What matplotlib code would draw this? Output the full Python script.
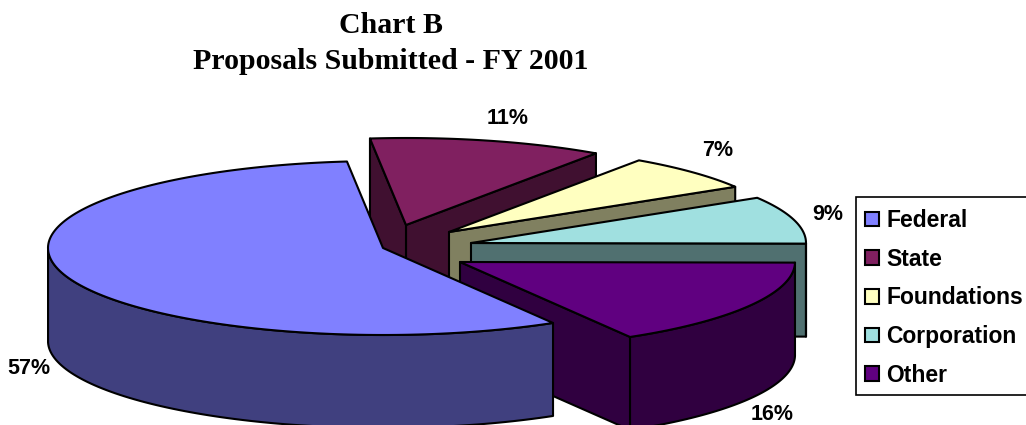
import numpy as np
import matplotlib
matplotlib.use("Agg")
import matplotlib.pyplot as plt
from matplotlib.patches import Polygon, Patch, Rectangle

categories = ["Federal", "State", "Foundations", "Corporation", "Other"]
shares = [56.7, 11.3, 6.7, 8.8, 16.4]
top_colors = ["#8080FF", "#802060", "#FFFFC0", "#A0E0E0", "#600080"]
side_colors = ["#40407F", "#401030", "#808060", "#507070", "#300040"]
title_lines = ["Chart B", "Proposals Submitted - FY 2001"]

# style / geometry of the drawing (pixels)
apex = [(383, 248), (406, 225), (449, 232), (471, 243), (460, 262)]
label_pos = [(29, 368), (508, 118), (718, 150), (828, 214), (772, 414)]
RX, RY, DEPTH = 335, 87, 93
START = 300.5
draw_order = [1, 2, 3, 4, 0]

W, H = 1026, 425
fig = plt.figure(figsize=(W / 100, H / 100), dpi=100)
ax = fig.add_axes([0, 0, 1, 1])
ax.set_xlim(0, W)
ax.set_ylim(H, 0)
ax.axis("off")

sweeps = 360 * np.array(shares) / sum(shares)
ends = START - np.cumsum(sweeps)
starts = ends + sweeps
LW = 1.5


def rim(cx, cy, t):
    r = np.radians(t)
    return np.column_stack([cx + RX * np.cos(r), cy - RY * np.sin(r)])


def poly(pts, color, z):
    ax.add_patch(Polygon(pts, closed=True, fc=color, ec="black", lw=LW,
                         joinstyle="round", zorder=z))


down = np.array([0, DEPTH])
for z, i in enumerate(draw_order):
    cx, cy = apex[i]
    a1, a0 = starts[i], ends[i]
    ts = np.linspace(a0, a1, 160)
    arc = rim(cx, cy, ts)
    c = np.array([[cx, cy]])
    # cut faces: only those turned to the viewer
    for edge, normal in ((arc[0], a0 - 90), (arc[-1], a1 + 90)):
        if np.sin(np.radians(normal)) < 0:
            poly(np.vstack([c, [edge], [edge + down], c + down]), side_colors[i], z * 10 + 1)
    # outer wall (only the part turned to the viewer)
    front = ts[np.sin(np.radians(ts)) <= 0.0]
    if len(front) > 1:
        f = rim(cx, cy, front)
        poly(np.vstack([f, (f + down)[::-1]]), side_colors[i], z * 10 + 2)
    # top face
    poly(np.vstack([c, arc]), top_colors[i], z * 10 + 3)

for (x, y), v in zip(label_pos, shares):
    ax.text(x, y, f"{v:.0f}%", ha="center", va="center", family="Liberation Sans",
            weight="bold", fontsize=15.5, color="black", zorder=100)

ax.text(391, 33, title_lines[0], ha="center", va="baseline", family="Liberation Serif",
        weight="bold", fontsize=21.5, zorder=100)
ax.text(391, 69, title_lines[1], ha="center", va="baseline", family="Liberation Serif",
        weight="bold", fontsize=21.5, zorder=100)

ax.add_patch(Rectangle((856, 197), 190, 198, fc="white", ec="black", lw=1.2, zorder=150))
handles = [Patch(fc=tc, ec="black", lw=LW) for tc in top_colors]
leg = ax.legend(handles, categories, loc="upper left",
                bbox_to_anchor=(865 / W, 1 - 209 / H), bbox_transform=ax.transAxes,
                frameon=False, borderaxespad=0, borderpad=0,
                handlelength=0.62, handleheight=0.62,
                handletextpad=0.3, labelspacing=0.685,
                prop={"family": "Liberation Sans", "weight": "bold", "size": 16.5})
leg.set_zorder(200)
fig.savefig("out.png", dpi=100, facecolor="white")
